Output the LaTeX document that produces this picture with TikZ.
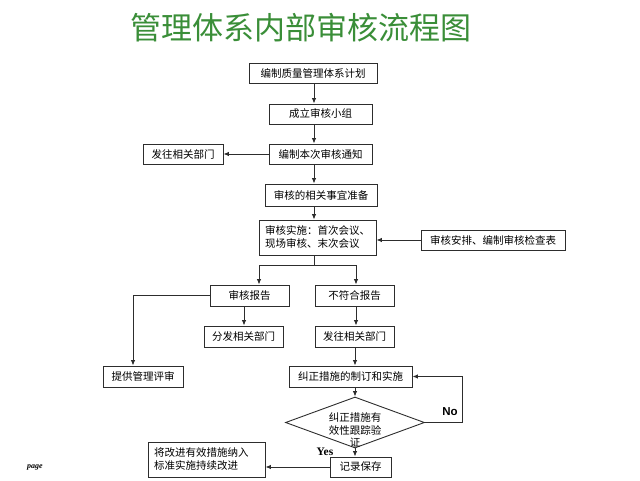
\documentclass[tikz,border=0pt]{standalone}
\usepackage{fontspec}
\usepackage{xcolor}
\usepackage{tikz}
\usetikzlibrary{shapes.geometric, arrows.meta, positioning}
\newfontfamily\cjk{Noto Sans CJK SC}
\newfontfamily\serifbold{Liberation Serif}
\newfontfamily\sansbold{Liberation Sans}
\definecolor{titlegreen}{RGB}{58, 142, 56}
\definecolor{linegray}{RGB}{45, 45, 45}

\begin{document}
\begin{tikzpicture}[
    x=1pt, y=-1pt,
    box/.style={rectangle, draw=linegray, line width=0.9pt, inner sep=1pt,
                minimum height=20pt, text centered,
                font=\cjk\fontsize{10.5}{13}\selectfont},
    textbox/.style={rectangle, draw=linegray, line width=0.9pt,
                inner xsep=6pt, inner ysep=2pt, text width=105pt, align=left,
                minimum height=35pt, font=\cjk\fontsize{10.5}{13}\selectfont},
    decision/.style={diamond, draw=linegray, line width=0.9pt, inner sep=0pt,
                minimum width=139pt, minimum height=51pt},
    arrow/.style={-{Latex[length=5.5pt, width=4.5pt]}, line width=0.9pt, linegray},
    line/.style={line width=0.9pt, linegray}
]
\useasboundingbox (0,0) rectangle (640,480);

% Title
\node[font=\cjk\fontsize{31}{31}\selectfont, text=titlegreen] (title) at (301,28) {管理体系内部审核流程图};

% Main chain
\coordinate (spine) at (314,0);
\node[box, minimum width=128pt] (plan) at (313,73.5) {编制质量管理体系计划};
\node[box, minimum width=103pt] (team) at (320.5,114) {成立审核小组};
\node[box, minimum width=103pt] (notice) at (320.5,154) {编制本次审核通知};
\node[box, minimum width=80pt] (sendA) at (183,154) {发往相关部门};
\node[box, minimum width=112pt, minimum height=22pt] (prep) at (321,195) {审核的相关事宜准备};
\node[textbox, minimum width=117pt] (exec) at (317.5,237.5) {审核实施：首次会议、\\现场审核、末次会议};
\node[box, minimum width=144pt] (arrange) at (493,240) {审核安排、编制审核检查表};

% Reports
\coordinate (splitL) at (259,265);
\coordinate (splitR) at (356,265);
\coordinate (reportX) at (244,0);
\coordinate (leftrail) at (133,0);
\node[box, minimum width=79pt, minimum height=21pt] (report) at (249.5,295.5) {审核报告};
\node[box, minimum width=79pt, minimum height=21pt] (ncr) at (354.5,295.5) {不符合报告};
\node[box, minimum width=79pt, minimum height=21pt] (distrib) at (243.5,336.5) {分发相关部门};
\node[box, minimum width=79pt, minimum height=21pt] (sendB) at (354.5,336.5) {发往相关部门};
\node[box, minimum width=80pt, minimum height=21pt] (review) at (143,376.5) {提供管理评审};

% Corrective action loop
\coordinate (norail) at (462,0);
\node[box, minimum width=123pt, minimum height=21pt] (correct) at (350.5,376.5) {纠正措施的制订和实施};
\node[decision] (verify) at (355,422.5) {};
\node[font=\cjk\fontsize{10.5}{12.5}\selectfont, align=center] (verifytext) at (355,430) {纠正措施有\\效性跟踪验\\证};
\node[box, minimum width=61pt] (record) at (360.5,467) {记录保存};
\node[textbox, minimum width=117pt] (improve) at (206.5,459.5) {将改进有效措施纳入\\标准实施持续改进};

% Labels
\node[font=\sansbold\bfseries\fontsize{11.5}{12}\selectfont] (nolabel) at (450,412) {No};
\node[font=\serifbold\bfseries\fontsize{11.5}{12}\selectfont] (yeslabel) at (325,452) {Yes};
\node[font=\serifbold\bfseries\itshape\fontsize{8}{9}\selectfont] (page) at (35,467) {page};

% Connections
\draw[arrow] (plan.south -| spine) -- (team.north -| spine);
\draw[arrow] (team.south -| spine) -- (notice.north -| spine);
\draw[arrow] (notice.west) -- (sendA.east);
\draw[arrow] (notice.south -| spine) -- (prep.north -| spine);
\draw[arrow] (prep.south -| spine) -- (exec.north -| spine);
\draw[arrow] (arrange.west) -- (arrange.west -| exec.east);
\draw[line] (exec.south -| spine) -- (spine |- splitL);
\draw[arrow] (splitR) -- (splitL) -- (report.north -| splitL);
\draw[arrow] (splitR) -- (ncr.north -| splitR);
\draw[arrow] (report.south -| reportX) -- (distrib.north -| reportX);
\draw[arrow] (report.west) -| (review.north -| leftrail);
\draw[arrow] (ncr.south -| splitR) -- (sendB.north -| splitR);
\draw[arrow] (sendB.south -| verify.north) -- (correct.north -| verify.north);
\draw[arrow] (correct.south -| verify.north) -- (verify.north);
\draw[arrow] (verify.east) -- (verify.east -| norail) |- (correct.east);
\draw[arrow] (verify.south) -- (record.north -| verify.south);
\draw[arrow] (record.west) -- (record.west -| improve.east);

\end{tikzpicture}
\end{document}
